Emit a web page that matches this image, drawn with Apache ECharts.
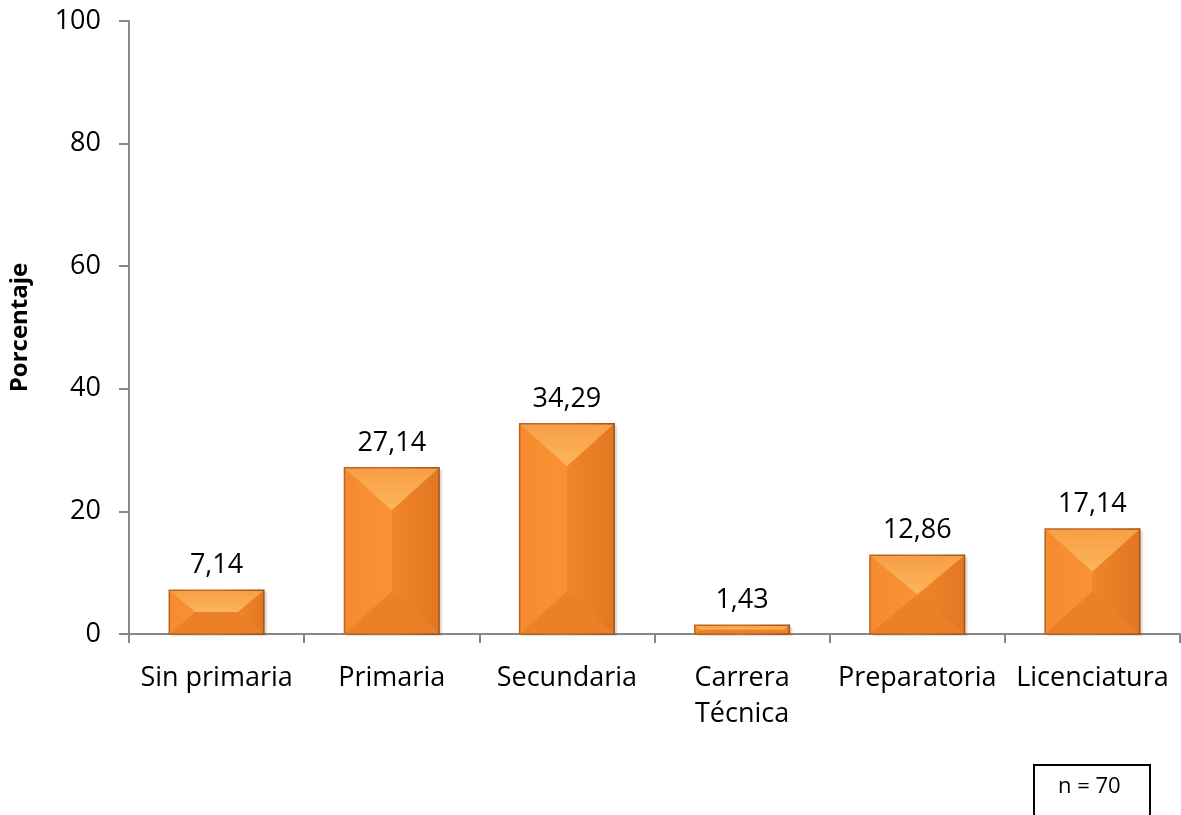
<!DOCTYPE html>
<html>
<head>
<meta charset="utf-8">
<script src="https://cdn.jsdelivr.net/npm/echarts@6/dist/echarts.min.js"></script>
<style>
  html, body { margin: 0; padding: 0; background: #fff; }
  #chart { width: 1181px; height: 815px; }
</style>
</head>
<body>
<div id="chart"></div>
<script>
// Nivel de escolaridad (porcentaje)
const categories = ['Sin primaria', 'Primaria', 'Secundaria', 'Carrera\nTécnica', 'Preparatoria', 'Licenciatura'];
const values = [7.14, 27.14, 34.29, 1.43, 12.86, 17.14];
const yTicks = [0, 20, 40, 60, 80, 100];
const sampleNote = 'n = 70';

const FONT = '"Open Sans", "Noto Sans", sans-serif';

// Bevelled orange bar: inner face plus four facets (top, bottom, left, right)
function renderBevelBar(params, api) {
  const idx = api.value(0);
  const val = api.value(1);
  const top = api.coord([idx, val]);
  const base = api.coord([idx, 0]);
  const band = api.size([1, 0])[0];
  const w = band * 0.54;
  const x0 = top[0] - w / 2, x1 = top[0] + w / 2;
  const y0 = top[1], y1 = base[1];
  const h = y1 - y0;
  const cx = top[0];
  const bh = Math.min(w / 2, h * 0.6);
  const bv = Math.min(bh * 0.9, h / 2);
  const ix0 = x0 + bh, ix1 = x1 - bh, iy0 = y0 + bv, iy1 = y1 - bv;
  const children = [
    // soft drop shadow
    { type: 'rect', shape: { x: x0 + 3, y: y0 + 2, width: w, height: h },
      style: { fill: 'rgba(120,70,20,0.16)', shadowBlur: 5, shadowColor: 'rgba(120,70,20,0.3)' } },
    // inner face
    { type: 'rect', shape: { x: x0, y: y0, width: w, height: h },
      style: { fill: new echarts.graphic.LinearGradient(0, 0, 1, 0, [
        { offset: 0, color: '#FA8F33' }, { offset: 0.5, color: '#F7892D' }, { offset: 1, color: '#EE8127' }]) } },
    // left facet
    { type: 'polygon', shape: { points: [[x0, y0], [ix0, iy0], [ix0, iy1], [x0, y1]] },
      style: { fill: new echarts.graphic.LinearGradient(0, 0, 1, 0, [
        { offset: 0, color: '#F68A2E' }, { offset: 1, color: '#FB9136' }]) } },
    // right facet
    { type: 'polygon', shape: { points: [[x1, y0], [ix1, iy0], [ix1, iy1], [x1, y1]] },
      style: { fill: new echarts.graphic.LinearGradient(0, 0, 1, 0, [
        { offset: 0, color: '#F28529' }, { offset: 1, color: '#E27722' }]) } },
    // bottom facet
    { type: 'polygon', shape: { points: [[x0, y1], [ix0, iy1], [ix1, iy1], [x1, y1]] },
      style: { fill: '#EC8028' } },
    // top facet
    { type: 'polygon', shape: { points: [[x0, y0], [ix0, iy0], [ix1, iy0], [x1, y0]] },
      style: { fill: new echarts.graphic.LinearGradient(0, 0, 0, 1, [
        { offset: 0, color: '#F79E45' }, { offset: 1, color: '#FBB65C' }]) } },
    // edge shading
    { type: 'rect', shape: { x: x0, y: y0, width: w, height: h },
      style: { fill: 'none', stroke: new echarts.graphic.LinearGradient(0, 0, 1, 0, [
        { offset: 0, color: '#B9651F' }, { offset: 0.5, color: '#C36C22' }, { offset: 1, color: '#98521B' }]), lineWidth: 1.5 } },
    // value label
    { type: 'text', x: cx, y: y0 - 11,
      style: { text: val.toFixed(2).replace('.', ','), fill: '#000', font: '27px ' + FONT,
        align: 'center', verticalAlign: 'bottom' } }
  ];
  return { type: 'group', children: children };
}

const chart = echarts.init(document.getElementById('chart'), null, { renderer: 'canvas' });
chart.setOption({
  backgroundColor: '#fff',
  animation: false,
  grid: { left: 128, right: 1, top: 21, bottom: 181, containLabel: false },
  xAxis: {
    type: 'category',
    data: categories,
    boundaryGap: true,
    axisLine: { lineStyle: { color: '#888', width: 2 } },
    axisTick: { show: true, inside: false, length: 9, lineStyle: { color: '#888', width: 2 } },
    axisLabel: { color: '#000', fontSize: 27, fontFamily: FONT, margin: 26, lineHeight: 36, interval: 0 }
  },
  yAxis: {
    type: 'value',
    min: yTicks[0],
    max: yTicks[yTicks.length - 1],
    interval: yTicks[1] - yTicks[0],
    name: 'Porcentaje',
    nameLocation: 'middle',
    nameGap: 97,
    nameRotate: 90,
    nameTextStyle: { color: '#000', fontSize: 24, fontWeight: 'bold', fontFamily: FONT },
    splitLine: { show: false },
    axisLine: { show: true, lineStyle: { color: '#888', width: 2 } },
    axisTick: { show: true, length: 10, lineStyle: { color: '#888', width: 2 } },
    axisLabel: { color: '#000', fontSize: 27, fontFamily: FONT, margin: 28 }
  },
  series: [{
    type: 'custom',
    renderItem: renderBevelBar,
    encode: { x: 0, y: 1 },
    data: values.map((v, i) => [i, v]),
    clip: false
  }],
  graphic: [
    { type: 'rect', left: 1033, top: 764, shape: { width: 116, height: 60 },
      style: { fill: '#fff', stroke: '#000', lineWidth: 2 } },
    { type: 'text', left: 1058, top: 776,
      style: { text: sampleNote, fill: '#000', font: '22px ' + FONT } }
  ]
});
</script>
</body>
</html>
